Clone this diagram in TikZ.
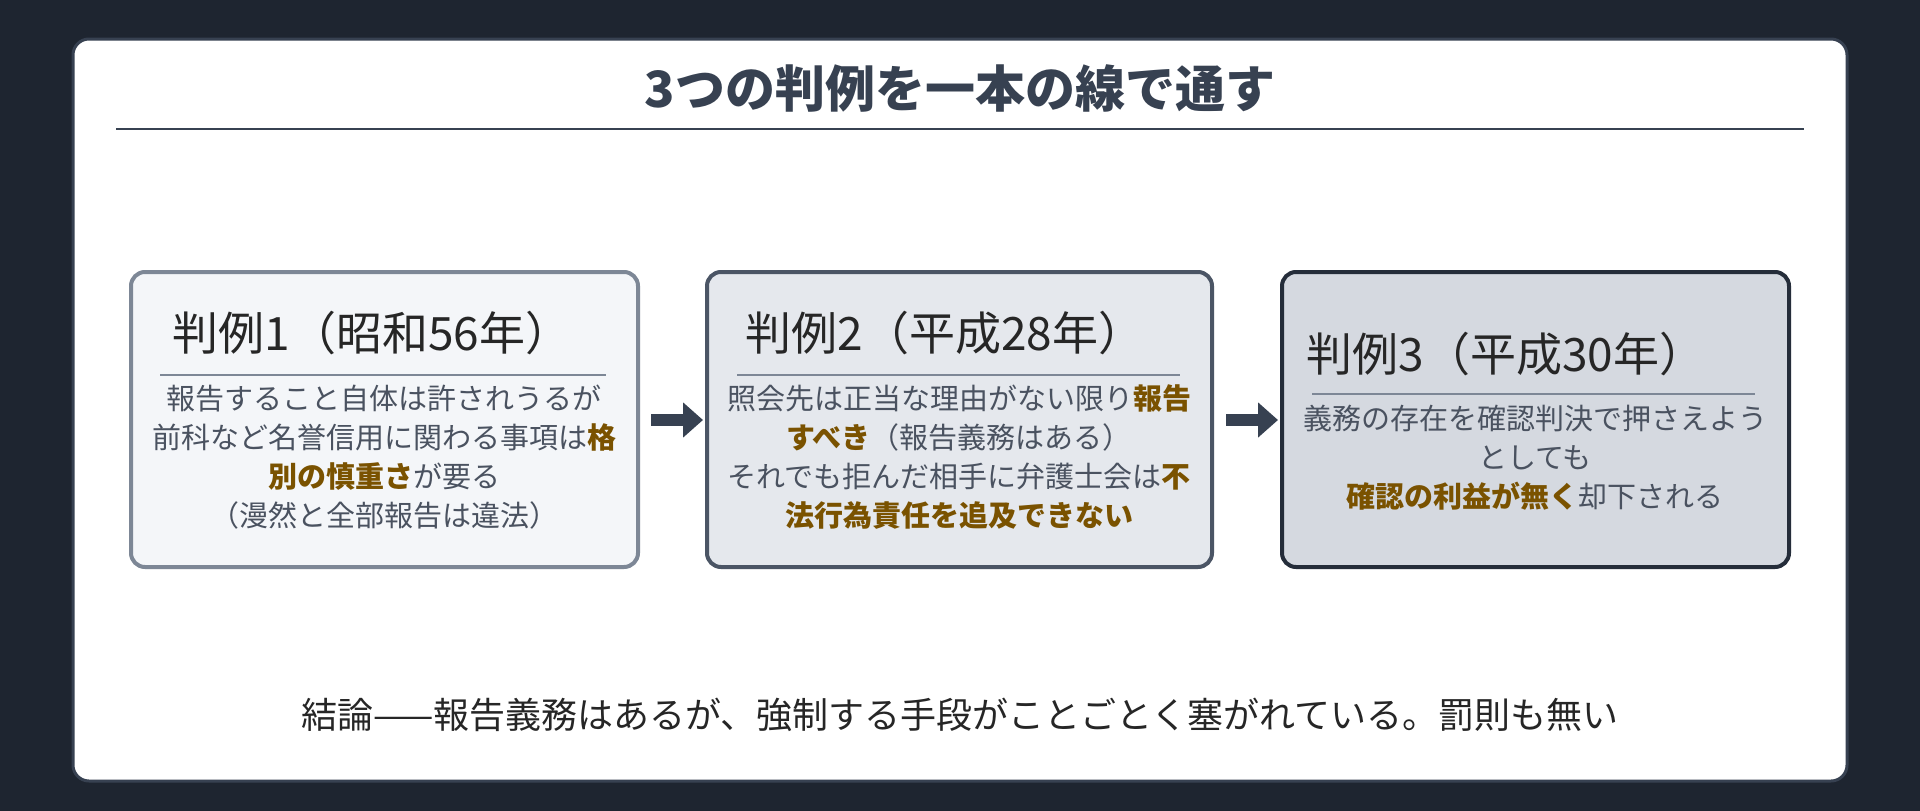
\documentclass[tikz,border=0pt]{standalone}
\usepackage{fontspec}
\setmainfont{Noto Sans CJK JP}
\usetikzlibrary{arrows.meta,positioning}
\definecolor{bgdark}{HTML}{1E2530}
\definecolor{inkgray}{HTML}{4A5260}
\definecolor{titleink}{HTML}{374151}
\definecolor{hilite}{HTML}{7A5200}
\definecolor{fillA}{HTML}{F4F6F9}\definecolor{lineA}{HTML}{7D8796}
\definecolor{fillB}{HTML}{E5E8ED}\definecolor{lineB}{HTML}{4B5565}
\definecolor{fillC}{HTML}{D5D9E0}\definecolor{lineC}{HTML}{252D3A}
\newcommand{\hl}[1]{\textbf{\color{hilite}#1}}
\tikzset{
  casebox/.style={draw=#1,line width=4pt,rounded corners=14pt},
  casetitle/.style={font=\fontsize{46}{50}\selectfont,text=black!85},
  casebody/.style={font=\fontsize{29}{39}\selectfont,text=inkgray,align=center},
  caserule/.style={line width=2.5pt,draw=lineA},
  stepArrow/.style={-{Triangle[length=20pt,width=34pt]},line width=12pt,draw=titleink}
}
\begin{document}
\begin{tikzpicture}[x=1pt,y=-1pt]
  % --- frame ---
  \fill[bgdark] (0,0) rectangle (1920,811);
  \fill[white,draw=titleink,line width=3pt,rounded corners=16pt] (73,39) rectangle (1847,781);
  \node[font=\bfseries\fontsize{50}{54}\selectfont,text=titleink] (title) at (960,88) {3つの判例を一本の線で通す};
  \draw[line width=2pt,titleink] (116,129) -- (1804,129);

  % --- case boxes ---
  \filldraw[fillA,casebox=lineA] (131,272) rectangle (638,567);
  \filldraw[fillB,casebox=lineB] (707,272) rectangle (1212,567);
  \filldraw[fillC,casebox=lineC] (1282,272) rectangle (1789,567);

  \node[casetitle] (t1) at (372,333) {判例1（昭和56年）};
  \draw[caserule] (160,375) -- (606,375);
  \node[casebody] (b1) at (384,457) {報告すること自体は許されうるが\\前科など名誉信用に関わる事項は\hl{格}\\\hl{別の慎重さ}が要る\\（漫然と全部報告は違法）};

  \node[casetitle] (t2) at (945,333) {判例2（平成28年）};
  \draw[caserule] (737,375) -- (1180,375);
  \node[casebody] (b2) at (959,457) {照会先は正当な理由がない限り\hl{報告}\\\hl{すべき}（報告義務はある）\\それでも拒んだ相手に弁護士会は\hl{不}\\\hl{法行為責任を追及できない}};

  \node[casetitle] (t3) at (1506,354) {判例3（平成30年）};
  \draw[caserule] (1312,394) -- (1755,394);
  \node[casebody] (b3) at (1535,458) {義務の存在を確認判決で押さえよう\\としても\\\hl{確認の利益が無く}却下される};

  % --- arrows ---
  \coordinate (a1s) at (651,420); \coordinate (a1e) at (703,420);
  \coordinate (a2s) at (1226,420); \coordinate (a2e) at (1278,420);
  \draw[stepArrow] (a1s) -- (a1e);
  \draw[stepArrow] (a2s) -- (a2e);

  % --- conclusion ---
  \node[font=\fontsize{36}{40}\selectfont,text=black!85] (concl) at (960,715) {結論——報告義務はあるが、強制する手段がことごとく塞がれている。罰則も無い};
\end{tikzpicture}
\end{document}
